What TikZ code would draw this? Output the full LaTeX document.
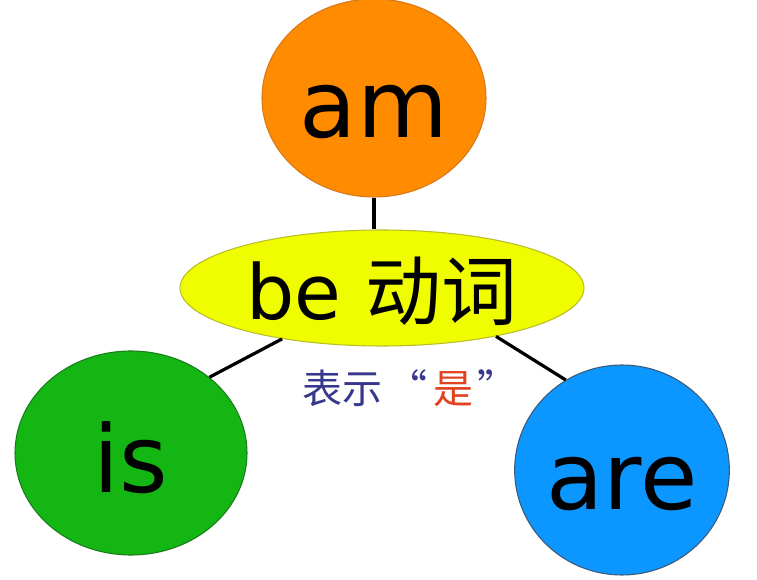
\documentclass[tikz,border=0pt]{standalone}
\usepackage{fontspec}
\setmainfont{DejaVu Sans}
\newfontfamily\cjk{Noto Sans CJK SC}
\usetikzlibrary{shapes.geometric}
\definecolor{amfill}{RGB}{255,140,0}
\definecolor{amline}{RGB}{215,120,25}
\definecolor{befill}{RGB}{240,252,0}
\definecolor{beline}{RGB}{185,190,40}
\definecolor{isfill}{RGB}{20,182,20}
\definecolor{isline}{RGB}{25,125,25}
\definecolor{arefill}{RGB}{12,150,255}
\definecolor{areline}{RGB}{60,90,120}
\definecolor{shiblue}{RGB}{55,55,140}
\definecolor{shired}{RGB}{225,65,30}

\begin{document}
\begin{tikzpicture}[x=0.75pt, y=-0.75pt, thin, ball/.style = {draw, ellipse, line width=0.8pt, inner sep=0pt, text height=60pt, text depth=0pt, font=\fontsize{70}{72}\selectfont}, link/.style = {draw, black, line width=2.4pt}]
                \useasboundingbox (0,0) rectangle (757,580);
                \node[ball, fill=amfill, draw=amline, minimum width=168pt, minimum height=148.5pt] (am) at (374,98) {am};
                \node[ball, fill=befill, draw=beline, minimum width=303pt, minimum height=87pt, text height=48pt, font=\fontsize{57}{60}\selectfont] (be) at (382,288) {be {\cjk 动词}};
                \node[ball, fill=isfill, draw=isline, minimum width=174pt, minimum height=153pt] (is) at (131,453) {is};
                \node[ball, fill=arefill, draw=areline, minimum width=161pt, minimum height=157.5pt] (are) at (622,470) {are};
                \node[font=\cjk\fontsize{30}{32}\selectfont, text=shiblue] (shi) at (410,388) {表示\hspace{0.12em}“\hspace{0.15em}\textcolor{shired}{是}\hspace{0.1em}”};
                \draw[link] (am.south) -- (am.south |- be.north);
                \draw[link] (is.44) -- (be.207);
                \draw[link] (are.122) -- (be.337);
            \end{tikzpicture}
\end{document}
